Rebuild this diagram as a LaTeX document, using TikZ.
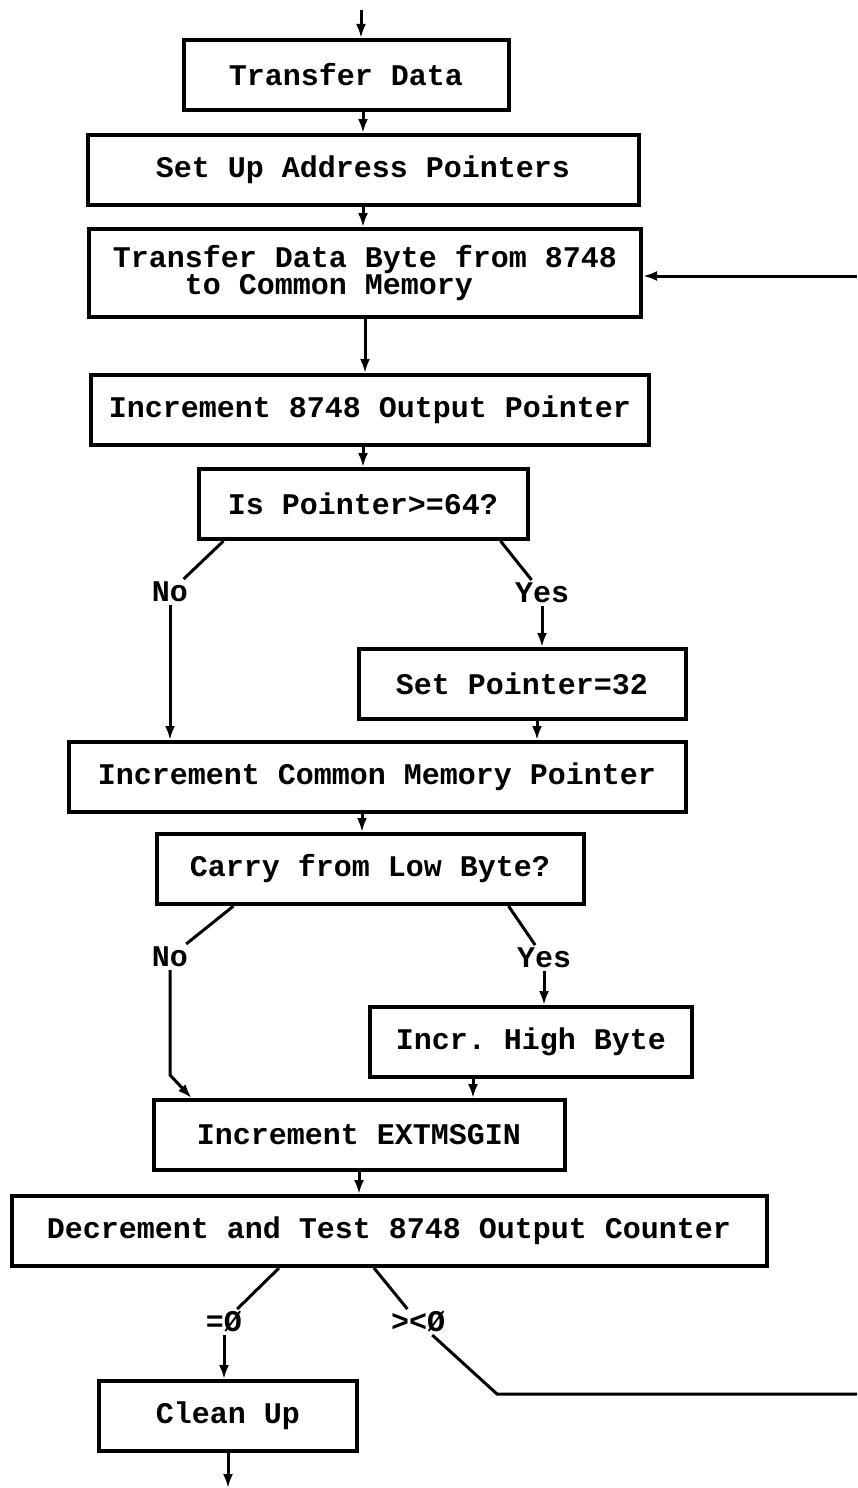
\documentclass[tikz,border=0pt]{standalone}
\usepackage{fontspec}
\setmonofont{Liberation Mono}
\usetikzlibrary{positioning,arrows.meta,calc}

\begin{document}
\begin{tikzpicture}
		[x=1pt, y=-1pt,
		box/.style={draw, line width=4pt, inner sep=0pt, minimum height=70pt},
		lbl/.style={inner sep=0pt, outer sep=4pt, text height=18pt, text depth=0pt},
		ln/.style={line width=3pt},
		arr/.style={ln, -{Latex[length=14pt,width=10pt]}},
		font=\ttfamily\bfseries\fontsize{30}{26}\selectfont]
		\useasboundingbox (0,0) rectangle (857,1488);

		\node[box, minimum width=325pt] (TD) at (346,75) {Transfer Data};
		\node[box, minimum width=551pt] (SU) at (363,170) {Set Up Address Pointers};
		\node[box, minimum width=552pt, minimum height=88pt, align=left] (TB) at (365,273)
			{Transfer Data Byte from 8748\\\hspace*{72pt}to Common Memory};
		\node[box, minimum width=558pt] (IO) at (370,410) {Increment 8748 Output Pointer};
		\node[box, minimum width=329pt] (IP) at (363,504) {Is Pointer>=64?};
		\node[box, minimum width=327pt] (SP) at (522,684) {Set Pointer=32};
		\node[box, minimum width=617pt] (IC) at (377,777) {Increment Common Memory Pointer};
		\node[box, minimum width=427pt] (CL) at (370,869) {Carry from Low Byte?};
		\node[box, minimum width=322pt] (IH) at (531,1042) {Incr. High Byte};
		\node[box, minimum width=411pt] (IE) at (359,1135) {Increment EXTMSGIN};
		\node[box, minimum width=755pt] (DT) at (389,1231) {Decrement and Test 8748 Output Counter};
		\node[box, minimum width=258pt] (CU) at (228,1416) {Clean Up};

		\node[lbl] (N1) at (170,592) {No};
		\node[lbl] (Y1) at (542,593) {Yes};
		\node[lbl] (N2) at (170,957) {No};
		\node[lbl] (Y2) at (544,958) {Yes};
		\node[lbl] (Z) at (224,1322) {=Ø};
		\node[lbl] (NZ) at (418,1322) {><Ø};

		\coordinate (In) at (361,10);
		\coordinate (Out) at (224,1488);
		\coordinate (Bend) at (170,1075);
		\coordinate (Knee) at (497,1394);
		\coordinate (RetB) at (857,1394);
		\coordinate (RetT) at (857,276);

		\draw[arr] (In) -- (In |- TD.north);
		\draw[arr] (SU.north |- TD.south) -- (SU.north);
		\draw[arr] (SU.south) -- (SU.south |- TB.north);
		\draw[arr] (TB.south) -- (TB.south |- IO.north);
		\draw[arr] (IP.north |- IO.south) -- (IP.north);
		\draw[ln] ([xshift=27pt]IP.south west) -- (N1);
		\draw[arr] (N1) -- (N1 |- IC.north);
		\draw[ln] ([xshift=-29pt]IP.south east) -- (Y1);
		\draw[arr] (Y1) -- (Y1 |- SP.north);
		\draw[arr] ([xshift=15pt]SP.south) -- ([xshift=15pt]SP.south |- IC.north);
		\draw[arr] ([xshift=-8pt]CL.north |- IC.south) -- ([xshift=-8pt]CL.north);
		\draw[ln] ([xshift=79pt]CL.south west) -- (N2);
		\draw[arr] (N2) -- (Bend) -- ([xshift=40pt]IE.north west);
		\draw[ln] ([xshift=-77pt]CL.south east) -- (Y2);
		\draw[arr] (Y2) -- (Y2 |- IH.north);
		\draw[arr] ([xshift=-58pt]IH.south) -- ([xshift=-58pt]IH.south |- IE.north);
		\draw[arr] (IE.south) -- (IE.south |- DT.north);
		\draw[ln] ([xshift=-110pt]DT.south) -- (Z);
		\draw[arr] (Z) -- (Z |- CU.north);
		\draw[ln] ([xshift=-15pt]DT.south) -- (NZ);
		\draw[ln] (NZ) -- (Knee) -- (RetB);
		\draw[arr] (RetT) -- (RetT -| TB.east);
		\draw[arr] (CU.south) -- (CU.south |- Out);
	\end{tikzpicture}
\end{document}
